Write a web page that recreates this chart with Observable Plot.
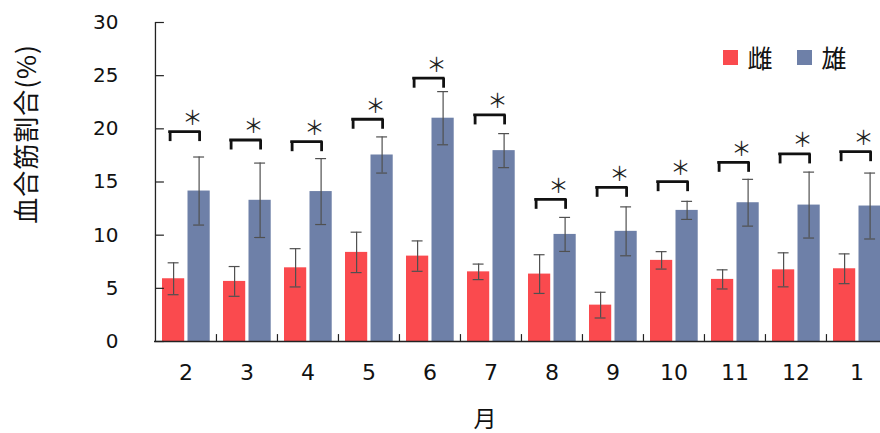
<!DOCTYPE html>
<html><head><meta charset="utf-8">
<script src="https://cdn.jsdelivr.net/npm/d3@7"></script>
<script src="https://cdn.jsdelivr.net/npm/@observablehq/plot@0.6"></script>
<style>
html,body{margin:0;padding:0;background:#fff;overflow:hidden;}
#wrap{position:relative;width:880px;height:433px;overflow:hidden;background:#fff;}
.lbl{position:absolute;font-family:"Noto Sans CJK JP",sans-serif;color:#111;white-space:nowrap;line-height:1.2;}
.sw{position:absolute;width:15px;height:15px;}
</style></head><body><div id="wrap"></div>
<script>
// ---- data ----
const months = ["2","3","4","5","6","7","8","9","10","11","12","1"];
const sexes = ["雌","雄"];
const femaleMean = [5.9,5.65,6.93,8.38,8.03,6.55,6.34,3.42,7.63,5.84,6.74,6.84];
const femaleSD   = [1.5,1.4,1.8,1.9,1.43,0.73,1.82,1.21,0.82,0.9,1.6,1.4];
const maleMean   = [14.15,13.28,14.1,17.54,21.0,17.95,10.07,10.36,12.33,13.05,12.83,12.74];
const maleSD     = [3.2,3.5,3.1,1.7,2.5,1.6,1.6,2.3,0.85,2.2,3.1,3.1];
const bracketLevel = [19.74,18.95,18.79,20.9,24.76,21.31,13.37,14.5,15.03,16.85,17.64,17.85];
const sigMark = "＊";
const yTicks = [0,5,10,15,20,25,30];
const yLabel = "血合筋割合(%)";
const xLabel = "月";
const colors = ["#FA4A4E","#6E80A8"];

// ---- layout ----
const W = 880, H = 433, ML = 154, MT = 22, MB = 92, XEND = 887;
const step = (XEND - ML) / months.length;
const bw = 22.3, redL = 7, blueL = 32.5, capW = 11, legLen = 0.94;
const half = step / 2;
const redC = redL + bw / 2 - half, blueC = blueL + bw / 2 - half;
const brL = redL + bw / 2 - 3.5, brR = blueL + bw / 2 + 0.5;

const female = months.map((m, i) => ({month: m, sex: sexes[0], mean: femaleMean[i], sd: femaleSD[i]}));
const male = months.map((m, i) => ({month: m, sex: sexes[1], mean: maleMean[i], sd: maleSD[i]}));
const brackets = months.map((m, i) => ({month: m, level: bracketLevel[i]}));

function errMarks(rows, left, c) {
  const capIn = left + bw / 2 - capW / 2;
  return [
    Plot.ruleX(rows, {x: "month", y1: d => d.mean - d.sd, y2: d => d.mean + d.sd, dx: c, stroke: "#505050", strokeWidth: 1.2}),
    Plot.tickY(rows, {x: "month", y: d => d.mean + d.sd, insetLeft: capIn, insetRight: step - capIn - capW, stroke: "#505050", strokeWidth: 1.2}),
    Plot.tickY(rows, {x: "month", y: d => d.mean - d.sd, insetLeft: capIn, insetRight: step - capIn - capW, stroke: "#505050", strokeWidth: 1.2})
  ];
}

const chart = Plot.plot({
  width: W, height: H,
  marginLeft: ML, marginTop: MT, marginBottom: MB, marginRight: 0,
  style: {fontFamily: "'DejaVu Sans', sans-serif", background: "transparent", overflow: "visible"},
  x: {type: "band", domain: months, range: [ML, XEND], padding: 0, axis: null},
  y: {domain: [0, 30], axis: null},
  marks: [
    Plot.barY(female, {x: "month", y: "mean", fill: colors[0], insetLeft: redL, insetRight: step - redL - bw}),
    Plot.barY(male, {x: "month", y: "mean", fill: colors[1], insetLeft: blueL, insetRight: step - blueL - bw}),
    ...errMarks(female, redL, redC),
    ...errMarks(male, blueL, blueC),
    Plot.tickY(brackets, {x: "month", y: "level", insetLeft: brL, insetRight: step - brR, stroke: "#111", strokeWidth: 2.8, strokeLinecap: "square"}),
    Plot.ruleX(brackets, {x: "month", y1: d => d.level - legLen, y2: "level", dx: brL - half, stroke: "#111", strokeWidth: 2.8}),
    Plot.ruleX(brackets, {x: "month", y1: d => d.level - legLen, y2: "level", dx: brR - half, stroke: "#111", strokeWidth: 2.8}),
    Plot.text(brackets, {x: "month", y: "level", text: () => sigMark, dx: 6.5, dy: -13, fontSize: 20, fill: "#222", fontFamily: "'Noto Sans CJK SC'"}),
    Plot.ruleY([0], {stroke: "#222", strokeWidth: 1.5}),
    Plot.ruleX([months[0]], {x: d => d, y1: 0, y2: 30, dx: -half, stroke: "#222", strokeWidth: 1.3}),
    Plot.tickY(yTicks, {y: d => d, x: () => months[0], insetRight: step - 9, stroke: "#222", strokeWidth: 1.2}),
    Plot.ruleX(months.slice(1), {x: d => d, y1: 0, y2: 0.65, dx: -half, stroke: "#222", strokeWidth: 1.2}),
    Plot.axisY(yTicks, {tickSize: 0, tickPadding: 36, fontSize: 20, fill: "#111", label: null}),
    Plot.axisX({tickSize: 0, tickPadding: 23, fontSize: 22, fill: "#111", label: null})
  ]
});

const wrap = document.getElementById("wrap");
wrap.appendChild(chart);

function addLabel(text, x, y, size, rot, spacing) {
  const d = document.createElement("div");
  d.className = "lbl";
  d.textContent = text;
  d.style.left = x + "px";
  d.style.top = y + "px";
  d.style.fontSize = size + "px";
  if (spacing) d.style.letterSpacing = spacing + "px";
  d.style.transform = "translate(-50%,-50%)" + (rot ? " rotate(" + rot + "deg)" : "");
  wrap.appendChild(d);
}
addLabel(yLabel, 25, 134, 26, -90, 1);
addLabel(xLabel, 485, 418, 23, 0);
[[723, sexes[0], colors[0]], [797, sexes[1], colors[1]]].forEach(([x, t, c]) => {
  const s = document.createElement("div");
  s.className = "sw"; s.style.left = x + "px"; s.style.top = "50px"; s.style.background = c;
  wrap.appendChild(s);
  addLabel(t, x + 37, 57, 25, 0);
});
</script></body></html>
